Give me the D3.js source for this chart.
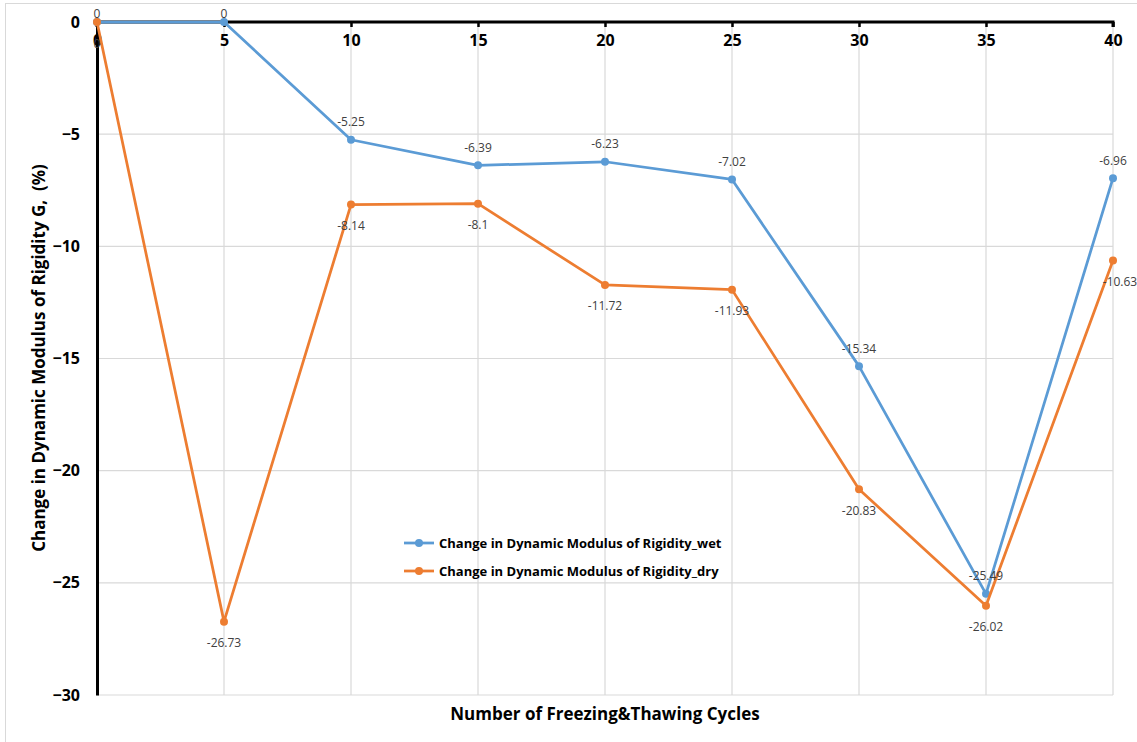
<!DOCTYPE html>
<html><head><meta charset="utf-8">
<script src="https://cdn.jsdelivr.net/npm/d3@7"></script>
<style>html,body{margin:0;padding:0;background:#fff;}svg{display:block;}</style>
</head><body>
<svg id="chart" width="1137" height="742"></svg>
<script>
const cycles = [0, 5, 10, 15, 20, 25, 30, 35, 40];
const wetValues = [0, 0, -5.25, -6.39, -6.23, -7.02, -15.34, -25.49, -6.96];
const dryValues = [0, -26.73, -8.14, -8.1, -11.72, -11.93, -20.83, -26.02, -10.63];
const wetLabels = ["0", "0", "-5.25", "-6.39", "-6.23", "-7.02", "-15.34", "-25.49", "-6.96"];
const dryLabels = ["0", "-26.73", "-8.14", "-8.1", "-11.72", "-11.93", "-20.83", "-26.02", "-10.63"];
const yTicks = [0, -5, -10, -15, -20, -25, -30];
const seriesNames = ["Change in Dynamic Modulus of Rigidity_wet", "Change in Dynamic Modulus of Rigidity_dry"];
const colors = ["#5B9BD5", "#ED7D31"];
const xTitle = "Number of Freezing&Thawing Cycles";
const yTitle = "Change in Dynamic Modulus of Rigidity G,  (%)";

const svg = d3.select("#chart");
const pLeft = 97, pRight = 1113, pTop = 22, pBottom = 695;
const x = d3.scaleLinear().domain([0, 40]).range([pLeft, pRight]);
const y = d3.scaleLinear().domain([0, -30]).range([pTop, pBottom]);
const font = "'Open Sans', Calibri, sans-serif";

// outer border
svg.append("rect").attr("x", 5.5).attr("y", 3.5).attr("width", 1140).attr("height", 750)
  .attr("fill", "#fff").attr("stroke", "#d9d9d9").attr("stroke-width", 1);

// horizontal gridlines
svg.append("g").selectAll("line").data(yTicks).join("line")
  .attr("x1", pLeft).attr("x2", pRight)
  .attr("y1", d => y(d)).attr("y2", d => y(d))
  .attr("stroke", "#d9d9d9").attr("stroke-width", 1.2);
// vertical gridlines
svg.append("g").selectAll("line").data(cycles).join("line")
  .attr("x1", d => x(d)).attr("x2", d => x(d))
  .attr("y1", pTop).attr("y2", pBottom)
  .attr("stroke", "#d9d9d9").attr("stroke-width", 1.2);

// x axis at y = 0 (top)
const xAxis = d3.axisBottom(x).tickValues(cycles).tickSize(5).tickPadding(8).tickFormat(d3.format("d"));
const gx = svg.append("g").attr("transform", `translate(0,${y(0)})`).call(xAxis);
gx.select(".domain").attr("stroke", "#000").attr("stroke-width", 3).attr("d", `M${pLeft},5V0H${pRight}V5`);
gx.selectAll(".tick line").attr("stroke", "#000").attr("stroke-width", 2.5);
gx.selectAll(".tick text").attr("font-family", font).attr("font-weight", "bold")
  .attr("font-size", 16).attr("fill", "#000");

// y axis
const yAxis = d3.axisLeft(y).tickValues(yTicks).tickSize(0).tickPadding(17).tickFormat(d3.format("d"));
const gy = svg.append("g").attr("transform", `translate(${pLeft},0)`).call(yAxis);
gy.select(".domain").attr("stroke", "#000").attr("stroke-width", 3);
gy.selectAll(".tick text").attr("font-family", font).attr("font-weight", "bold")
  .attr("font-size", 16).attr("fill", "#000");

// lines
const series = [wetValues, dryValues];
const line = d3.line().x((d, i) => x(cycles[i])).y(d => y(d));
series.forEach((vals, s) => {
  svg.append("path").datum(vals).attr("d", line).attr("fill", "none")
    .attr("stroke", colors[s]).attr("stroke-width", 2.75).attr("stroke-linejoin", "round");
  svg.append("g").selectAll("circle").data(vals).join("circle")
    .attr("cx", (d, i) => x(cycles[i])).attr("cy", d => y(d)).attr("r", 4)
    .attr("fill", colors[s]);
});

// data labels
const labelSets = [
  {vals: wetValues, labels: wetLabels, dy: -18},
  {vals: dryValues, labels: dryLabels, dy: 21}
];
labelSets.forEach(ls => {
  svg.append("g").selectAll("text").data(ls.vals).join("text")
    .attr("x", (d, i) => x(cycles[i]) + (i === 8 && ls.dy > 0 ? 7 : 0))
    .attr("y", d => Math.max(13, y(d) + ls.dy))
    .attr("text-anchor", "middle").attr("dominant-baseline", "central")
    .attr("font-family", font).attr("font-size", 12).attr("fill", "#404040")
    .text((d, i) => ls.labels[i]);
});

// legend
const legend = svg.append("g");
seriesNames.forEach((name, i) => {
  const ly = 543 + i * 28;
  legend.append("line").attr("x1", 404).attr("x2", 434).attr("y1", ly).attr("y2", ly)
    .attr("stroke", colors[i]).attr("stroke-width", 2.75);
  legend.append("circle").attr("cx", 419).attr("cy", ly).attr("r", 4).attr("fill", colors[i]);
  legend.append("text").attr("x", 439).attr("y", ly).attr("dominant-baseline", "central")
    .attr("font-family", font).attr("font-weight", "bold").attr("font-size", 13)
    .attr("fill", "#000").text(name);
});

// axis titles
svg.append("text").attr("x", 605).attr("y", 713).attr("text-anchor", "middle")
  .attr("dominant-baseline", "central").attr("font-family", font).attr("font-weight", "bold")
  .attr("font-size", 17).attr("fill", "#000").text(xTitle);
svg.append("text").attr("transform", "translate(38,358) rotate(-90)").attr("text-anchor", "middle")
  .attr("dominant-baseline", "central").attr("font-family", font).attr("font-weight", "bold")
  .attr("font-size", 17).attr("fill", "#000").style("white-space", "pre").text(yTitle);
</script>
</body></html>
